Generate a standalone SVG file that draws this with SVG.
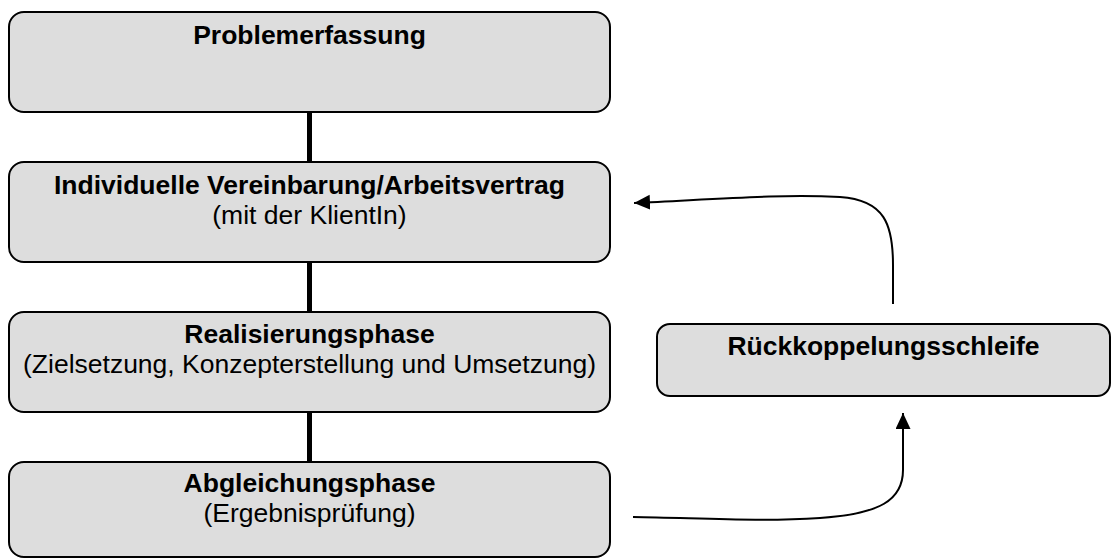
<svg xmlns="http://www.w3.org/2000/svg" width="1112" height="559" viewBox="0 0 1112 559">
  <style>
    .box { fill: #dddddd; stroke: #000000; stroke-width: 2; }
    .t { font-family: "Liberation Sans", Arial, sans-serif; font-size: 26.5px; fill: #000000; text-anchor: middle; }
    .b { font-weight: bold; }
    .vline { stroke: #000000; stroke-width: 5; fill: none; }
    .curve { stroke: #000000; stroke-width: 2; fill: none; }
  </style>
  <defs>
    <marker id="arrow" markerUnits="userSpaceOnUse" markerWidth="17" markerHeight="16" refX="16" refY="7.5" orient="auto">
      <path d="M0,0 L16,7.5 L0,15 z" fill="#000000"/>
    </marker>
  </defs>
  <rect width="1112" height="559" fill="#ffffff"/>
  <g id="connectors">
    <line class="vline" x1="309.5" y1="112" x2="309.5" y2="162"/>
    <line class="vline" x1="309.5" y1="262" x2="309.5" y2="312"/>
    <line class="vline" x1="309.5" y1="412" x2="309.5" y2="462"/>
    <path class="curve" d="M893,304 L893,265 C893,225 885,200 840,197 C780,194 720,199 634,203" marker-end="url(#arrow)"/>
    <path class="curve" d="M633,517 C700,518 760,522 820,518 C880,514 903,500 903,470 L903,430 L903,413" marker-end="url(#arrow)"/>
  </g>
  <g id="node-problemerfassung">
    <rect class="box" x="9" y="12" width="601" height="100" rx="15" ry="15"/>
    <text class="t b" x="309.5" y="44">Problemerfassung</text>
  </g>
  <g id="node-vereinbarung">
    <rect class="box" x="9" y="162" width="601" height="100" rx="15" ry="15"/>
    <text class="t b" x="309.5" y="194">Individuelle Vereinbarung/Arbeitsvertrag</text>
    <text class="t" x="309.5" y="224">(mit der KlientIn)</text>
  </g>
  <g id="node-realisierung">
    <rect class="box" x="9" y="312" width="601" height="100" rx="15" ry="15"/>
    <text class="t b" x="309.5" y="343">Realisierungsphase</text>
    <text class="t" x="309.5" y="373">(Zielsetzung, Konzepterstellung und Umsetzung)</text>
  </g>
  <g id="node-abgleichung">
    <rect class="box" x="9" y="462" width="601" height="95" rx="15" ry="15"/>
    <text class="t b" x="309.5" y="492">Abgleichungsphase</text>
    <text class="t" x="309.5" y="522">(Ergebnisprüfung)</text>
  </g>
  <g id="node-rueckkopplung">
    <rect class="box" x="657" y="324" width="453" height="72" rx="13" ry="13"/>
    <text class="t b" x="883.5" y="355">Rückkoppelungsschleife</text>
  </g>
</svg>
